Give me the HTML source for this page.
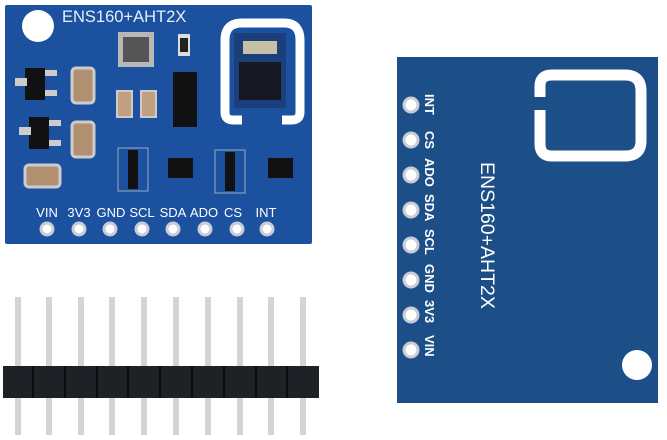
<!DOCTYPE html>
<html><head><style>html,body{margin:0;padding:0;background:#fff}svg{display:block}</style></head>
<body>
<svg width="667" height="440" viewBox="0 0 667 440" xmlns="http://www.w3.org/2000/svg" font-family="Liberation Sans, sans-serif">
<rect width="667" height="440" fill="#fff"/>
<!-- Left board -->
<rect x="5" y="5" width="307" height="239" fill="#1b519f" rx="2"/>
<circle cx="38" cy="26" r="16" fill="#fff"/>
<text x="62" y="22" fill="#e6eefa" font-size="16.5">ENS160+AHT2X</text>
<!-- U shape -->
<path d="M225 112 V40 Q225 23 242 23 H284 Q300 23 300 40 V112 Q300 120 292 120 H282 M225 112 Q225 120 233 120 H242" fill="none" stroke="#fff" stroke-width="9"/>
<rect x="234" y="33" width="52" height="75" fill="#1a3f7a"/>
<rect x="239" y="62" width="42" height="38" fill="#151820"/>
<rect x="243" y="41" width="34" height="13" fill="#c9c0a8"/>
<!-- components -->
<rect x="118" y="32" width="36" height="35" fill="#b8b8b8"/><rect x="123" y="37" width="26" height="25" fill="#555"/>
<rect x="178" y="34" width="12" height="22" fill="#ddd"/><rect x="180" y="38" width="8" height="14" fill="#222"/>
<rect x="173" y="72" width="24" height="55" fill="#111"/>
<rect x="25" y="68" width="20" height="32" fill="#111"/><rect x="15" y="78" width="12" height="8" fill="#ccc"/><rect x="45" y="70" width="12" height="6" fill="#ccc"/><rect x="45" y="90" width="12" height="6" fill="#ccc"/>
<rect x="29" y="117" width="20" height="32" fill="#111"/><rect x="19" y="127" width="12" height="8" fill="#ccc"/><rect x="49" y="120" width="12" height="6" fill="#ccc"/><rect x="49" y="140" width="12" height="6" fill="#ccc"/>
<rect x="72" y="68" width="22" height="35" rx="4" fill="#b09070" stroke="#ccc" stroke-width="3"/>
<rect x="72" y="122" width="22" height="35" rx="4" fill="#b09070" stroke="#ccc" stroke-width="3"/>
<rect x="25" y="165" width="35" height="22" rx="4" fill="#b09070" stroke="#ccc" stroke-width="3"/>
<rect x="117" y="91" width="15" height="26" fill="#c0a080" stroke="#ccc" stroke-width="2"/>
<rect x="141" y="91" width="15" height="26" fill="#c0a080" stroke="#ccc" stroke-width="2"/>
<rect x="118" y="148" width="30" height="43" fill="#1b519f" stroke="#9ab" stroke-width="1"/><rect x="128" y="150" width="10" height="39" fill="#111"/>
<rect x="215" y="150" width="30" height="43" fill="#1b519f" stroke="#9ab" stroke-width="1"/><rect x="225" y="152" width="10" height="39" fill="#111"/>
<rect x="168" y="158" width="25" height="20" fill="#111"/>
<rect x="268" y="158" width="25" height="20" fill="#111"/>
<g fill="#fff" font-size="13" text-anchor="middle">
<text x="47" y="217">VIN</text><text x="79" y="217">3V3</text><text x="111" y="217">GND</text><text x="142" y="217">SCL</text><text x="173" y="217">SDA</text><text x="204" y="217">ADO</text><text x="233" y="217">CS</text><text x="266" y="217">INT</text>
</g>
<g fill="#fff" stroke="#c8ccd4" stroke-width="3">
<circle cx="47" cy="229" r="6"/><circle cx="79" cy="229" r="6"/><circle cx="110" cy="229" r="6"/><circle cx="142" cy="229" r="6"/><circle cx="173" cy="229" r="6"/><circle cx="205" cy="229" r="6"/><circle cx="237" cy="229" r="6"/><circle cx="267" cy="229" r="6"/>
</g>
<!-- Right board -->
<rect x="397" y="57" width="261" height="346" fill="#1c4e88"/>
<path d="M540 97 V86 Q540 75 552 75 H625 Q641 75 641 91 V141 Q641 156 625 156 H552 Q540 156 540 144 V110" fill="none" stroke="#fff" stroke-width="11"/>
<circle cx="637" cy="365" r="15" fill="#fff"/>
<text transform="translate(481,162) rotate(90)" fill="#fff" font-size="19.5">ENS160+AHT2X</text>
<g fill="#fff" font-size="13" font-weight="bold">
<text transform="translate(425,94) rotate(90)">INT</text>
<text transform="translate(425,131) rotate(90)">CS</text>
<text transform="translate(425,158) rotate(90)">ADO</text>
<text transform="translate(425,194) rotate(90)">SDA</text>
<text transform="translate(425,229) rotate(90)">SCL</text>
<text transform="translate(425,264) rotate(90)">GND</text>
<text transform="translate(425,300) rotate(90)">3V3</text>
<text transform="translate(425,335) rotate(90)">VIN</text>
</g>
<g fill="#fff" stroke="#c8ccd4" stroke-width="3">
<circle cx="411" cy="105" r="7"/><circle cx="411" cy="140" r="7"/><circle cx="411" cy="175" r="7"/><circle cx="411" cy="210" r="7"/><circle cx="411" cy="245" r="7"/><circle cx="411" cy="280" r="7"/><circle cx="411" cy="315" r="7"/><circle cx="411" cy="350" r="7"/>
</g>
<!-- Header pins -->
<g fill="#d4d4d4">
<rect x="15" y="297" width="6" height="138"/><rect x="46" y="297" width="6" height="138"/><rect x="78" y="297" width="6" height="138"/><rect x="109" y="297" width="6" height="138"/><rect x="141" y="297" width="6" height="138"/><rect x="173" y="297" width="6" height="138"/><rect x="205" y="297" width="6" height="138"/><rect x="237" y="297" width="6" height="138"/><rect x="268" y="297" width="6" height="138"/><rect x="300" y="297" width="6" height="138"/>
</g>
<rect x="3" y="366" width="316" height="32" fill="#1e2126"/>
<g stroke="#0b0c0e" stroke-width="2">
<line x1="33" y1="366" x2="33" y2="398"/><line x1="65" y1="366" x2="65" y2="398"/><line x1="97" y1="366" x2="97" y2="398"/><line x1="128" y1="366" x2="128" y2="398"/><line x1="160" y1="366" x2="160" y2="398"/><line x1="192" y1="366" x2="192" y2="398"/><line x1="224" y1="366" x2="224" y2="398"/><line x1="256" y1="366" x2="256" y2="398"/><line x1="287" y1="366" x2="287" y2="398"/>
</g>
</svg>
</body></html>
